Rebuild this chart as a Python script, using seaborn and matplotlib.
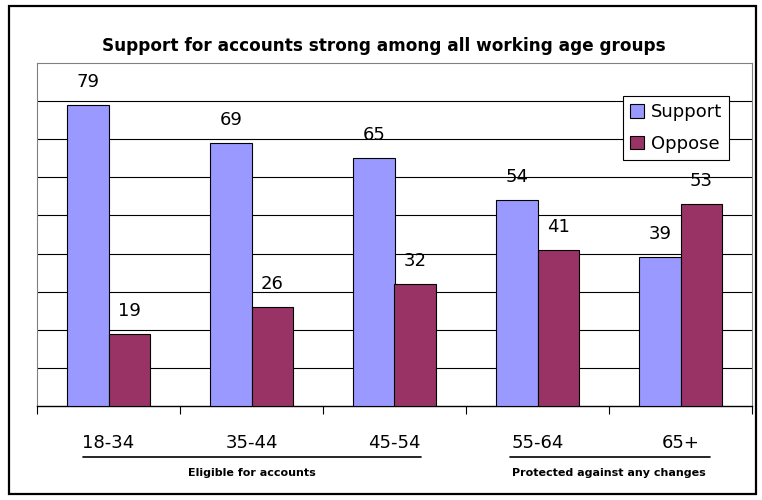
import matplotlib
matplotlib.use("Agg")
import matplotlib.pyplot as plt
import matplotlib.transforms as mtransforms
from matplotlib.patches import Rectangle
from matplotlib.lines import Line2D
import seaborn as sns
import pandas as pd

# ---- data ----
categories = ["18-34", "35-44", "45-54", "55-64", "65+"]
support = [79, 69, 65, 54, 39]
oppose = [19, 26, 32, 41, 53]
series_names = ["Support", "Oppose"]
title = "Support for accounts strong among all working age groups"
group_labels = ["Eligible for accounts", "Protected against any changes"]

df = pd.DataFrame({
    "age": categories * 2,
    "value": support + oppose,
    "series": [series_names[0]] * len(categories) + [series_names[1]] * len(categories),
})

sns.set_theme(style="white")
plt.rcParams["font.family"] = ["DejaVu Sans"]
plt.rcParams["text.color"] = "black"
plt.rcParams["axes.labelcolor"] = "black"
plt.rcParams["legend.labelcolor"] = "black"

W, H = 762, 500
fig = plt.figure(figsize=(W / 100, H / 100), dpi=100)
fig.patch.set_facecolor("white")

def fx(px):
    return px / W

def fy(py):
    return 1 - py / H

ax = fig.add_axes([fx(37), fy(406), fx(752) - fx(37), fy(63) - fy(406)])

palette = {"Support": "#9999FF", "Oppose": "#993366"}
sns.barplot(data=df, x="age", y="value", hue="series", order=categories,
            hue_order=series_names, palette=palette, width=0.575,
            edgecolor="black", linewidth=0.8, saturation=1, ax=ax, zorder=3)

ax.set_ylim(0, 90)
ax.set_xlim(-0.5, len(categories) - 0.5)
ax.set_yticks(range(10, 90, 10))
ax.yaxis.grid(True, color="black", linewidth=0.8)
ax.set_axisbelow(True)
ax.tick_params(axis="y", length=0, labelleft=False)
ax.set_xlabel("")
ax.set_ylabel("")

# boundary ticks on x axis
ax.set_xticks([i - 0.5 for i in range(len(categories) + 1)])
ax.set_xticklabels([])
ax.tick_params(axis="x", direction="out", length=6, width=0.8, color="black", bottom=True)

for side in ["left", "top", "right"]:
    ax.spines[side].set_color("#808080")
    ax.spines[side].set_linewidth(0.8)
ax.spines["bottom"].set_color("black")
ax.spines["bottom"].set_linewidth(1.0)

for cont in ax.containers:
    ax.bar_label(cont, padding=10, fontsize=13, color="black")

# legend
handles, labels = ax.get_legend_handles_labels()
leg = ax.legend(handles, labels, loc="upper left",
                bbox_to_anchor=(fx(623), fy(96)), bbox_transform=fig.transFigure,
                fontsize=13, frameon=True, fancybox=False, edgecolor="black",
                framealpha=1, handlelength=0.75, handleheight=0.75,
                handletextpad=0.4, labelspacing=0.75, borderpad=0.4,
                borderaxespad=0)
leg.get_frame().set_linewidth(0.8)
for t in leg.get_texts():
    t.set_color("black")

# category labels below axis
trans = mtransforms.blended_transform_factory(ax.transData, fig.transFigure)
for i, c in enumerate(categories):
    fig.text(i, fy(443), c, transform=trans, ha="center", va="center", fontsize=13,
             color="black")

# group underlines and labels
fig.add_artist(Line2D([-0.18, 2.185], [fy(457), fy(457)], transform=trans,
                      color="black", linewidth=1.2))
fig.add_artist(Line2D([2.807, 4.206], [fy(457), fy(457)], transform=trans,
                      color="black", linewidth=1.2))
fig.text(1.0, fy(473), group_labels[0], transform=trans, ha="center", va="center",
         fontsize=8, fontweight="bold", color="black")
fig.text(3.5, fy(473), group_labels[1], transform=trans, ha="center", va="center",
         fontsize=8, fontweight="bold", color="black")

# title
fig.text(fx(384), fy(46), title, ha="center", va="center", fontsize=12.2,
         fontweight="bold", color="black")

# figure border
fig.add_artist(Rectangle((fx(9), fy(494)), fx(756) - fx(9), fy(6) - fy(494),
                         transform=fig.transFigure, fill=False,
                         edgecolor="black", linewidth=1.6))

fig.savefig("out.png", dpi=100)
